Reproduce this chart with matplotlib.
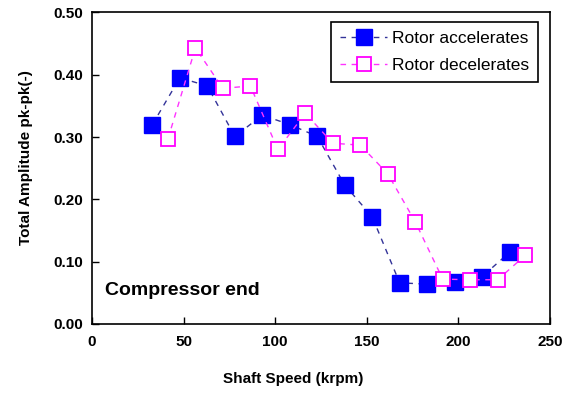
import matplotlib.pyplot as plt

## Compressor end: total amplitude vs shaft speed
speed_acc = [33, 48, 63, 78, 93, 108, 123, 138, 153, 168, 183, 198, 213, 228]
amp_acc = [0.320, 0.395, 0.382, 0.301, 0.335, 0.320, 0.301, 0.223, 0.172,
           0.066, 0.064, 0.068, 0.076, 0.115]
speed_dec = [41.5, 56.5, 71.5, 86.5, 101.5, 116.5, 131.5, 146.5, 161.5, 176.5,
             191.5, 206.5, 221.5, 236.5]
amp_dec = [0.297, 0.443, 0.378, 0.382, 0.280, 0.338, 0.290, 0.287, 0.241,
           0.164, 0.072, 0.071, 0.071, 0.110]
yticks = [0.0, 0.1, 0.2, 0.3, 0.4, 0.5]
xticks = [0, 50, 100, 150, 200, 250]

plt.rcParams['font.family'] = ['Liberation Sans', 'DejaVu Sans']

fig = plt.figure(figsize=(5.71, 3.99), dpi=100)
ax = fig.add_axes([0.161, 0.188, 0.802, 0.781])

ax.plot(speed_acc, amp_acc, ls=(0, (4, 4)), color='#333399', lw=1,
        marker='s', ms=11.5, mfc='#0000ff', mec='#0000ff',
        label='Rotor accelerates')
ax.plot(speed_dec, amp_dec, ls=(0, (4, 4)), color='#ff33ff', lw=1,
        marker='s', ms=10.5, mfc='white', mec='#ff00ff', mew=1.3,
        label='Rotor decelerates')

ax.set_xlim(0, 250)
ax.set_ylim(0, 0.5)
ax.set_xticks(xticks)
ax.set_yticks(yticks)
ax.set_yticklabels(['%.2f' % v for v in yticks])
ax.tick_params(direction='in', length=5, width=1, labelsize=11, pad=8)
ax.tick_params(axis='y', pad=6)
for lab in ax.get_xticklabels() + ax.get_yticklabels():
    lab.set_fontweight('bold')
for s in ax.spines.values():
    s.set_linewidth(1.2)

ax.set_xlabel('Shaft Speed (krpm)', fontsize=11, fontweight='bold')
ax.xaxis.set_label_coords(0.439, -0.155)
ax.set_ylabel('Total Amplitude pk-pk(-)', fontsize=11, fontweight='bold')
ax.yaxis.set_label_coords(-0.128, 0.534)

ax.text(0.028, 0.106, 'Compressor end', transform=ax.transAxes,
        fontsize=14, fontweight='bold', va='center')

leg = ax.legend(loc='upper right', bbox_to_anchor=(0.974, 0.969), fontsize=12.5,
                fancybox=False, edgecolor='black', framealpha=1,
                handlelength=2.7, borderpad=0.5, labelspacing=0.7,
                handletextpad=0.3, borderaxespad=0)
leg.get_frame().set_linewidth(1.2)

plt.savefig('out.png')
